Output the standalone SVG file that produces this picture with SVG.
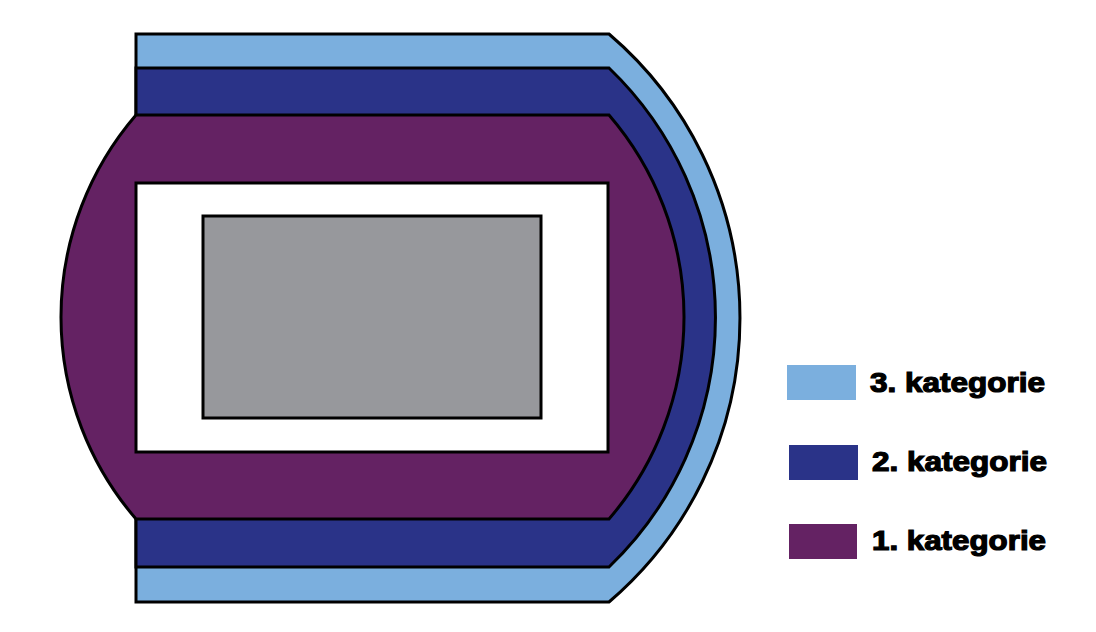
<svg xmlns="http://www.w3.org/2000/svg" width="1096" height="632" viewBox="0 0 1096 632">
<style>
.o{stroke:#000;stroke-width:3;stroke-linejoin:miter}
.c3{fill:#7BAFDE}
.c2{fill:#2A3388}
.c1{fill:#642263}
.lbl{font-family:"Liberation Sans",Arial,sans-serif;font-weight:bold;font-size:27px;fill:#000;stroke:#000;stroke-width:1.2}
</style>
<rect width="1096" height="632" fill="#fff"/>
<g id="cat3-stand"><path class="o c3" d="M136,34 H609 A373.4,373.4 0 0 1 609,602 H136 Z"/></g>
<g id="cat2-stand"><path class="o c2" d="M136,68 H609 A345.6,345.6 0 0 1 609,567 H136 Z"/></g>
<g id="cat1-stand"><path class="o c1" d="M136,115 H609 A309.5,309.5 0 0 1 609,519 H136 A309.5,309.5 0 0 1 136,115 Z"/></g>
<g id="track"><rect class="o" x="136" y="183" width="472" height="269" fill="#fff"/></g>
<g id="pitch"><rect class="o" x="203" y="216" width="338" height="202" fill="#97989C"/></g>
<g id="legend">
<g id="legend-3"><rect class="c3" x="787" y="365" width="69" height="35"/><text class="lbl" x="870" y="392" textLength="175" lengthAdjust="spacingAndGlyphs">3. kategorie</text></g>
<g id="legend-2"><rect class="c2" x="789" y="445" width="69" height="35"/><text class="lbl" x="872" y="471" textLength="175" lengthAdjust="spacingAndGlyphs">2. kategorie</text></g>
<g id="legend-1"><rect class="c1" x="789" y="524" width="68" height="35"/><text class="lbl" x="872" y="550" textLength="174" lengthAdjust="spacingAndGlyphs">1. kategorie</text></g>
</g>
<g id="connectors"/>
</svg>
